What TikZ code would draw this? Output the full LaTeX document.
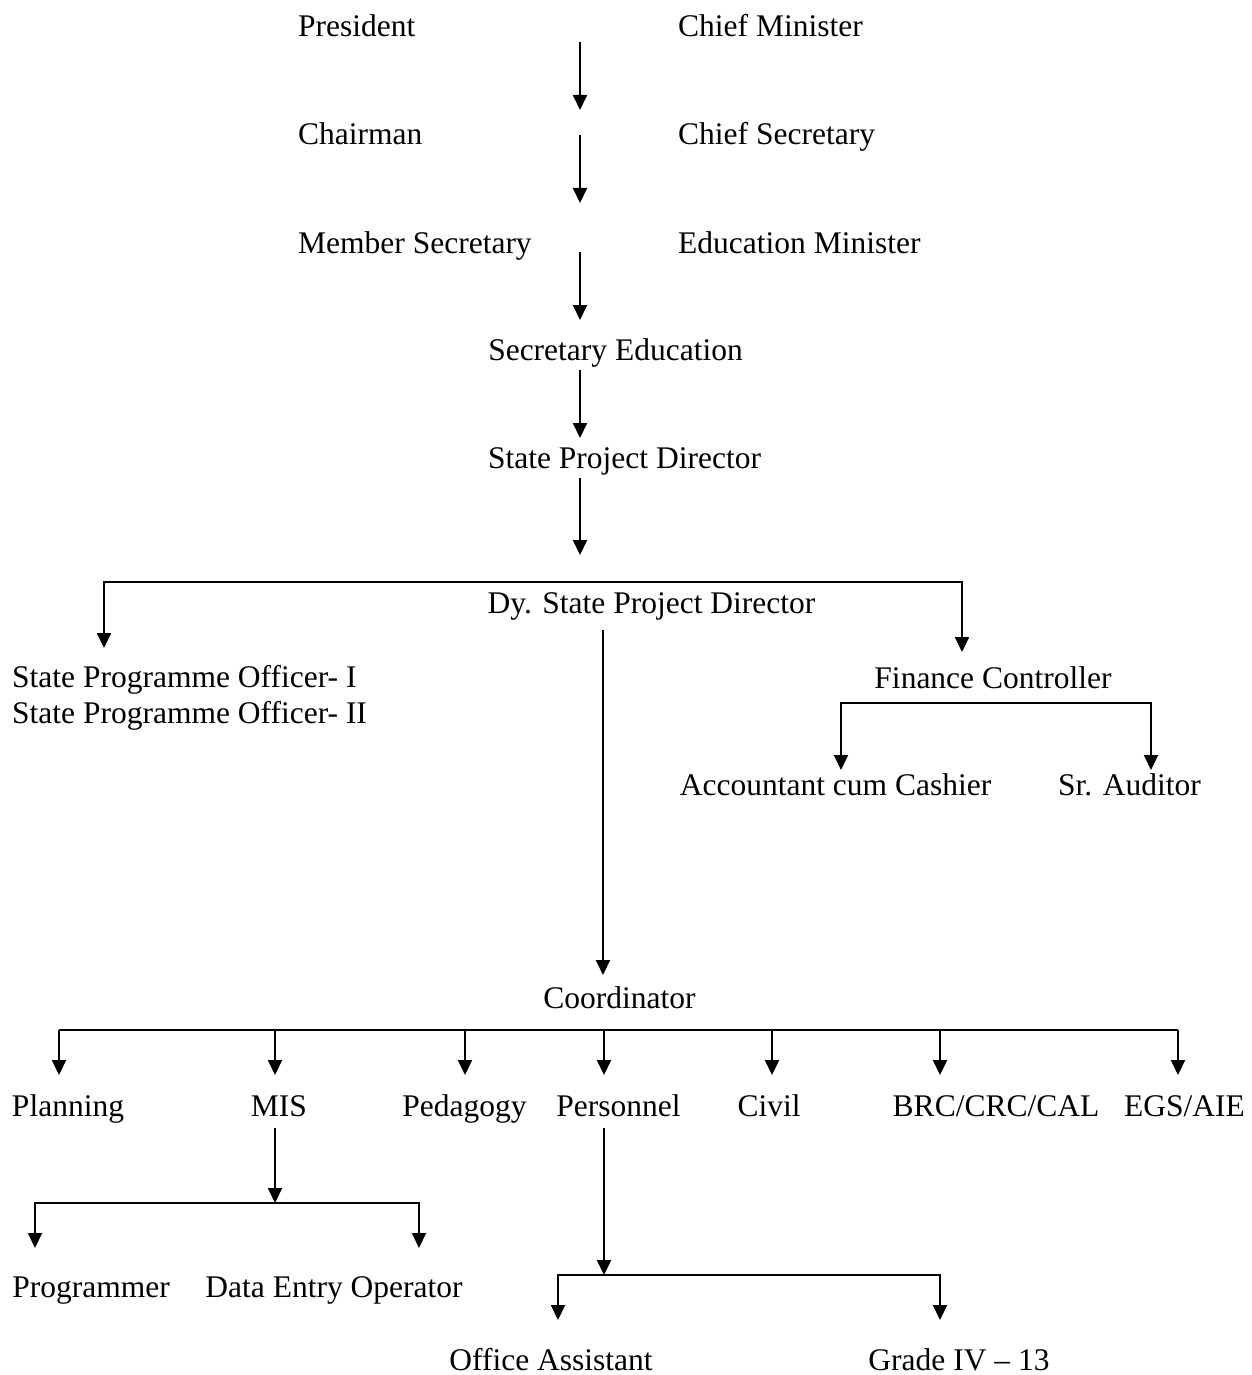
\documentclass[tikz,border=0pt]{standalone}
\usepackage{fontspec}
\setmainfont{Liberation Serif}
\usepackage{tikz}
\usetikzlibrary{calc,arrows.meta,positioning}

\begin{document}
\begin{tikzpicture}[x=1pt,y=-1pt,font=\fontsize{31.5}{37}\selectfont,
        lbl/.style={inner sep=0pt},
        wire/.style={line width=2pt},
        arr/.style={wire,-{Triangle[width=14pt,length=15pt]}},
        arrs/.style={wire,{Triangle[width=14pt,length=15pt]}-{Triangle[width=14pt,length=15pt]}}]
      \useasboundingbox (0,0) rectangle (1251,1375);
      % upper levels, two columns
      \node[lbl,anchor=base west] (pres)  at (298,37)  {President};
      \node[lbl,anchor=base west] (cmin)  at (678,37)  {Chief Minister};
      \node[lbl,anchor=base west] (chair) at (298,145) {Chairman};
      \node[lbl,anchor=base west] (csec)  at (678,145) {Chief Secretary};
      \node[lbl,anchor=base west] (msec)  at (298,253) {Member Secretary};
      \node[lbl,anchor=base west] (edmin) at (678,253) {Education Minister};
      \node[lbl,anchor=base] (seced) at (615.5,360) {Secretary Education};
      \node[lbl,anchor=base] (spd)   at (624.5,468) {State Project Director};
      \node[lbl,anchor=base] (dyspd) at (651.5,613) {Dy. State Project Director};
      \node[lbl,anchor=base west] (spo1) at (12,687) {State Programme Officer- I};
      \node[lbl,anchor=base west] (spo2) at (12,723) {State Programme Officer- II};
      \node[lbl,anchor=base] (fin) at (993,688)    {Finance Controller};
      \node[lbl,anchor=base] (acc) at (835.5,795)  {Accountant cum Cashier};
      \node[lbl,anchor=base] (aud) at (1129.5,795) {Sr. Auditor};
      \node[lbl,anchor=base] (coord) at (619.5,1008) {Coordinator};
      % sections
      \node[lbl,anchor=base] (plan)  at (68,1116)     {Planning};
      \node[lbl,anchor=base] (mis)   at (279,1116)    {MIS};
      \node[lbl,anchor=base] (ped)   at (464.5,1116)  {Pedagogy};
      \node[lbl,anchor=base] (pers)  at (618.5,1116)  {Personnel};
      \node[lbl,anchor=base] (civil) at (769,1116)    {Civil};
      \node[lbl,anchor=base] (brc)   at (996,1116)    {BRC/CRC/CAL};
      \node[lbl,anchor=base] (egs)   at (1184.5,1116) {EGS/AIE};
      \node[lbl,anchor=base] (prog)  at (91,1297)  {Programmer};
      \node[lbl,anchor=base] (deo)   at (334,1297) {Data Entry Operator};
      \node[lbl,anchor=base] (oa)    at (551,1370) {Office Assistant};
      \node[lbl,anchor=base] (grade) at (959,1370) {Grade IV -- 13};

      % main line
      \coordinate (trunk) at (580,0);
      \draw[arr] ([yshift=-5pt]trunk |- pres.base) -- ([yshift=35pt]trunk |- chair.base);
      \draw[arr] ([yshift=10pt]trunk |- chair.base) -- ([yshift=50pt]trunk |- msec.base);
      \draw[arr] ([yshift=1pt]trunk |- msec.base) -- ([yshift=40pt]trunk |- seced.base);
      \draw[arr] ([yshift=-10pt]trunk |- seced.base) -- ([yshift=30pt]trunk |- spd.base);
      \draw[arr] ([yshift=-10pt]trunk |- spd.base) -- ([yshift=58pt]trunk |- dyspd.base);

      % officers and finance
      \coordinate (topl) at (104,582);
      \coordinate (topr) at (962,582);
      \draw[arrs] ([yshift=39pt]topl |- spo1.base) |- (topr) -- ([yshift=36pt]topr |- fin.base);
      \coordinate (finl) at (841,703);
      \coordinate (finr) at (1151,703);
      \draw[arrs] ([yshift=25pt]finl |- acc.base) |- (finr) -- ([yshift=25pt]finr |- aud.base);
      \draw[arr] ([xshift=-48.5pt,yshift=-17pt]dyspd.base) -- ([xshift=-16.5pt,yshift=33pt]coord.base);

      % sections
      \coordinate (busw) at (59,1030);
      \coordinate (buse) at (1178,1030);
      \draw[wire] (busw) -- (buse);
      \foreach \n/\d in {plan/-9,mis/-4,ped/0.5,pers/-14.5,civil/3,brc/-56,egs/-6.5}
        \draw[arr] ([xshift=\d pt]\n.base |- busw) -- ([xshift=\d pt,yshift=41pt]\n.base);

      % MIS and personnel staff
      \coordinate (misl) at (35,1203);
      \coordinate (misr) at (419,1203);
      \draw[arr] ([xshift=-4pt,yshift=-12pt]mis.base) -- ([xshift=-4pt]mis.base |- misl);
      \draw[arrs] ([yshift=49pt]misl |- prog.base) |- (misr) -- ([yshift=49pt]misr |- deo.base);
      \coordinate (persl) at (558,1275);
      \coordinate (persr) at (940,1275);
      \draw[arr] ([xshift=-14.5pt,yshift=-12pt]pers.base) -- ([xshift=-14.5pt]pers.base |- persl);
      \draw[arrs] ([yshift=50pt]persl |- oa.base) |- (persr) -- ([yshift=50pt]persr |- grade.base);
    \end{tikzpicture}
\end{document}
